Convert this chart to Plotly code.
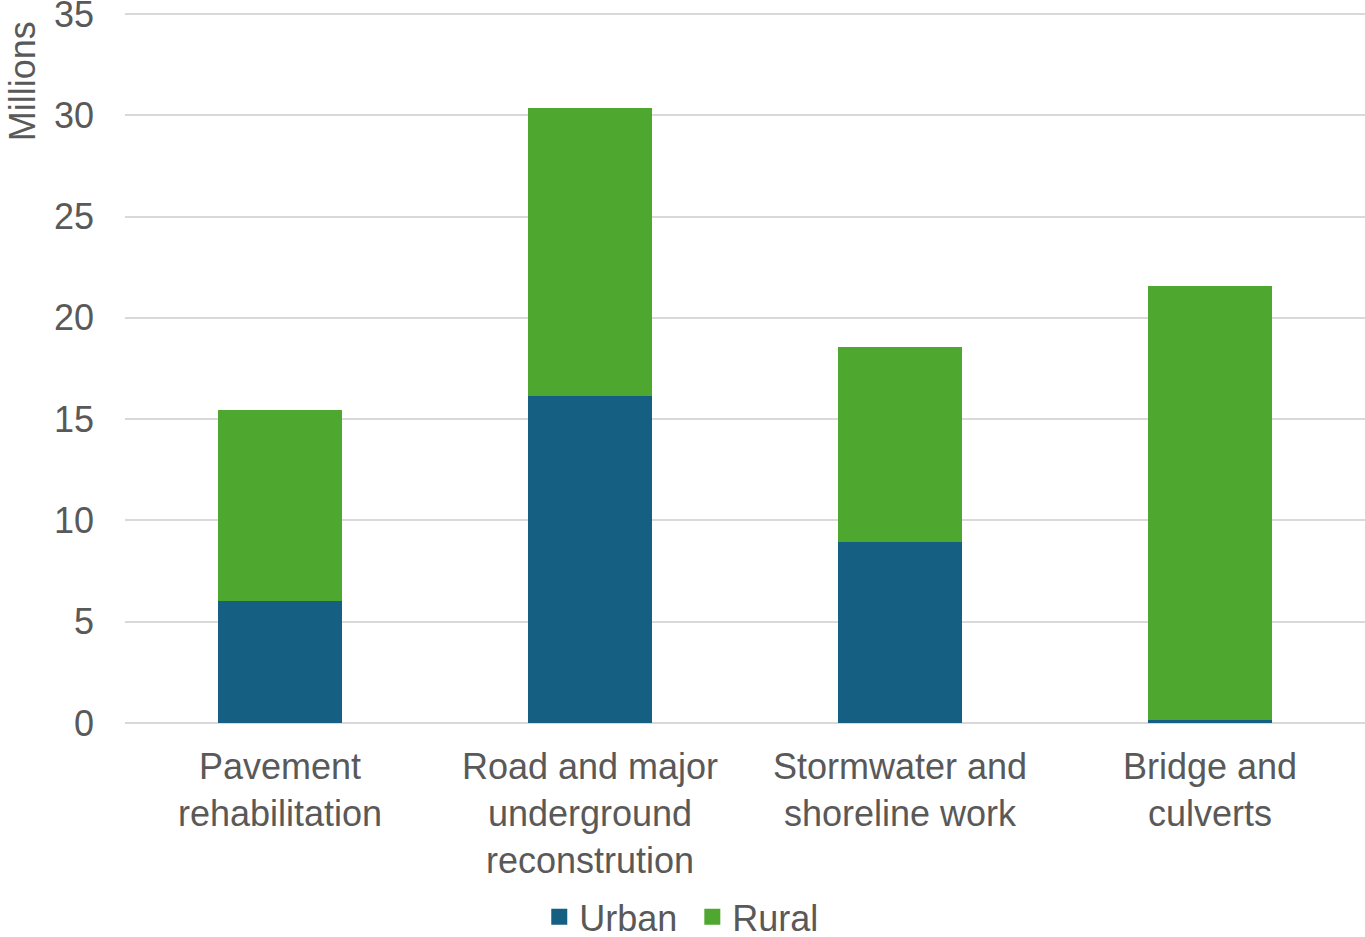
import plotly.graph_objects as go

categories = ["Pavement<br>rehabilitation",
              "Road and major<br>underground<br>reconstrution",
              "Stormwater and<br>shoreline work",
              "Bridge and<br>culverts"]
urban = [6.0, 16.15, 8.95, 0.15]
rural = [9.45, 14.2, 9.6, 21.4]
y_ticks = [0, 5, 10, 15, 20, 25, 30, 35]

FONT = "Liberation Sans, Arial, sans-serif"
GREY = "#595959"
C_URBAN = "#155F82"
C_RURAL = "#4EA72E"

fig = go.Figure()
fig.add_trace(go.Bar(name="Urban", x=categories, y=urban, showlegend=False,
                     marker=dict(color=C_URBAN, line=dict(width=0))))
fig.add_trace(go.Bar(name="Rural", x=categories, y=rural, showlegend=False,
                     marker=dict(color=C_RURAL, line=dict(width=0))))
# legend entries with larger square swatches
for name, col in [("Urban\u00a0", C_URBAN), ("Rural", C_RURAL)]:
    fig.add_trace(go.Scatter(name=name, x=[None], y=[None], mode="markers",
                             marker=dict(symbol="square", size=19, color=col),
                             showlegend=True, hoverinfo="skip"))

fig.update_layout(
    barmode="stack",
    bargap=0.6,
    width=1365, height=937,
    margin=dict(l=125, r=0, t=10, b=214, autoexpand=False),
    paper_bgcolor="white", plot_bgcolor="white",
    font=dict(family=FONT, size=36, color=GREY),
    showlegend=True,
    legend=dict(orientation="h", x=0.449, xanchor="center", y=-0.272, yanchor="middle",
                font=dict(size=36, color=GREY), itemwidth=30, traceorder="normal",
                bgcolor="rgba(0,0,0,0)"),
    xaxis=dict(showgrid=False, showline=False, ticks="", automargin=False,
               tickfont=dict(size=36, color=GREY), ticklabelstandoff=19),
    yaxis=dict(range=[0, 35.2], tickvals=y_ticks, showgrid=True, gridcolor="#D9D9D9", gridwidth=1.5,
               zeroline=True, zerolinecolor="#D9D9D9", zerolinewidth=1.5,
               showline=False, ticks="", automargin=False, ticklabeloverflow="allow",
               tickfont=dict(size=36, color=GREY), ticklabelstandoff=30),
    annotations=[dict(text="Millions", xref="paper", yref="paper", x=-103/1240, y=0.9,
                      xanchor="center", yanchor="middle", textangle=-90, showarrow=False,
                      font=dict(size=36, color=GREY, family=FONT))],
)

fig.write_html("out.html", config={"displayModeBar": False},
               post_script="document.body.style.margin='0';document.body.style.overflow='hidden';")
